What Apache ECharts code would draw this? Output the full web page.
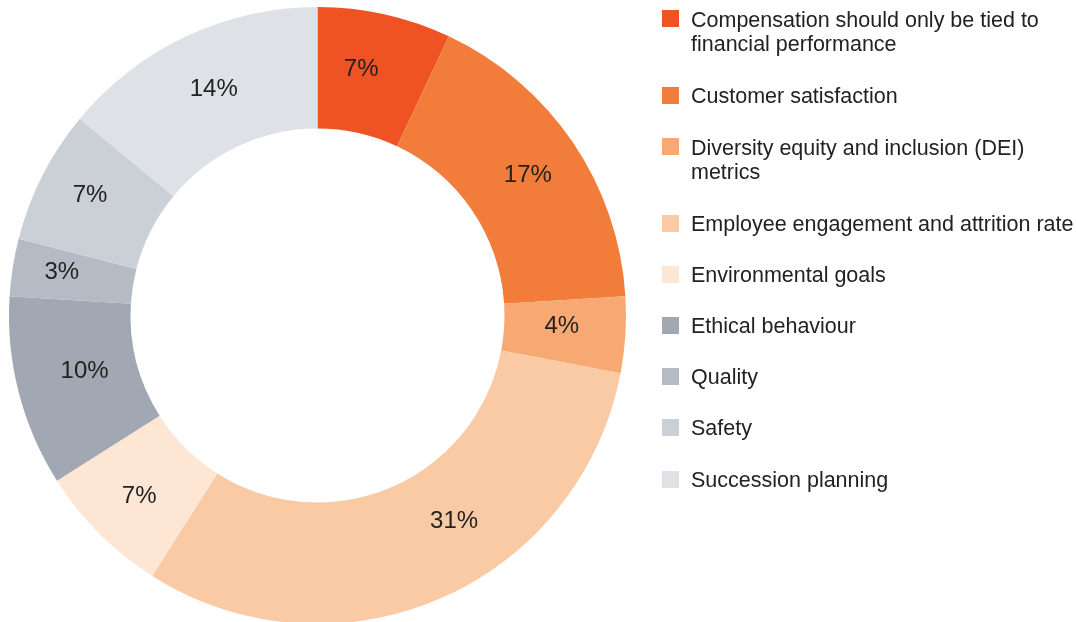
<!DOCTYPE html>
<html>
<head>
<meta charset="utf-8">
<script src="https://cdn.jsdelivr.net/npm/echarts@6/dist/echarts.min.js"></script>
<style>
html,body{margin:0;padding:0;background:#fff;}
#chart{width:1076px;height:622px;}
</style>
</head>
<body>
<div id="chart"></div>
<script>
var categories = [
  'Compensation should only be tied to\nfinancial performance',
  'Customer satisfaction',
  'Diversity equity and inclusion (DEI)\nmetrics',
  'Employee engagement and attrition rate',
  'Environmental goals',
  'Ethical behaviour',
  'Quality',
  'Safety',
  'Succession planning'
];
var values = [7, 17, 4, 31, 7, 10, 3, 7, 14];
var colors = ['#F05323', '#F27D3B', '#F7A873', '#F9CAA4', '#FDE6D4', '#A1A8B3', '#B5BBC4', '#CBCFD6', '#DEE2E6'];

// layout helpers (not data)
var legendIconTops = [10, 87, 138, 215, 266, 317, 368, 419, 471];
var labelNudge = [[-11, -1], [3, 1], [-6, -5], [37, -24], [-1, 4], [10, -6], [-8, -4], [-4, -6], [3, 1]];

var FONT = "'Liberation Sans', Arial, Helvetica, sans-serif";
var LH = 24;
var SHIFT = 1.5;

var chart = echarts.init(document.getElementById('chart'), null, {renderer: 'canvas'});

var data = categories.map(function (c, i) {
  return { name: c, value: values[i], itemStyle: { color: colors[i] } };
});

var legends = categories.map(function (c, i) {
  var lines = c.split('\n');
  var n = lines.length;
  var shift = n > 1 ? SHIFT + 1 : SHIFT;
  var gap = (n - 1) * LH + shift * 2;
  var blockH = gap + n * LH;
  return {
    show: true,
    orient: 'vertical',
    left: 662,
    top: legendIconTops[i] - (blockH - 17) / 2,
    padding: 0,
    itemWidth: 17,
    itemHeight: 17,
    icon: 'rect',
    selectedMode: false,
    data: [c],
    formatter: function (name) {
      var ls = name.split('\n');
      return '{g| }\n' + ls.map(function (l) { return '{t|' + l + '}'; }).join('\n');
    },
    textStyle: {
      fontFamily: FONT,
      fontSize: 21.5,
      color: '#222222',
      padding: [0, 0, 0, 7],
      rich: {
        g: { fontSize: 1, lineHeight: gap, height: gap },
        t: { fontFamily: FONT, fontSize: 21.5, lineHeight: LH, color: '#222222' }
      }
    }
  };
});

var option = {
  backgroundColor: '#ffffff',
  animation: false,
  legend: legends,
  series: [{
    type: 'pie',
    center: [317.5, 315.5],
    radius: [187, 308.5],
    startAngle: 90,
    clockwise: true,
    avoidLabelOverlap: false,
    silent: true,
    itemStyle: { borderWidth: 0 },
    label: {
      show: true,
      position: 'inside',
      formatter: '{c}%',
      fontFamily: FONT,
      fontSize: 24,
      color: '#222222'
    },
    labelLine: { show: false },
    emphasis: { disabled: true },
    labelLayout: function (params) {
      var d = labelNudge[params.dataIndex] || [0, 0];
      return { dx: d[0], dy: d[1] };
    },
    data: data
  }]
};
chart.setOption(option);
</script>
</body>
</html>
